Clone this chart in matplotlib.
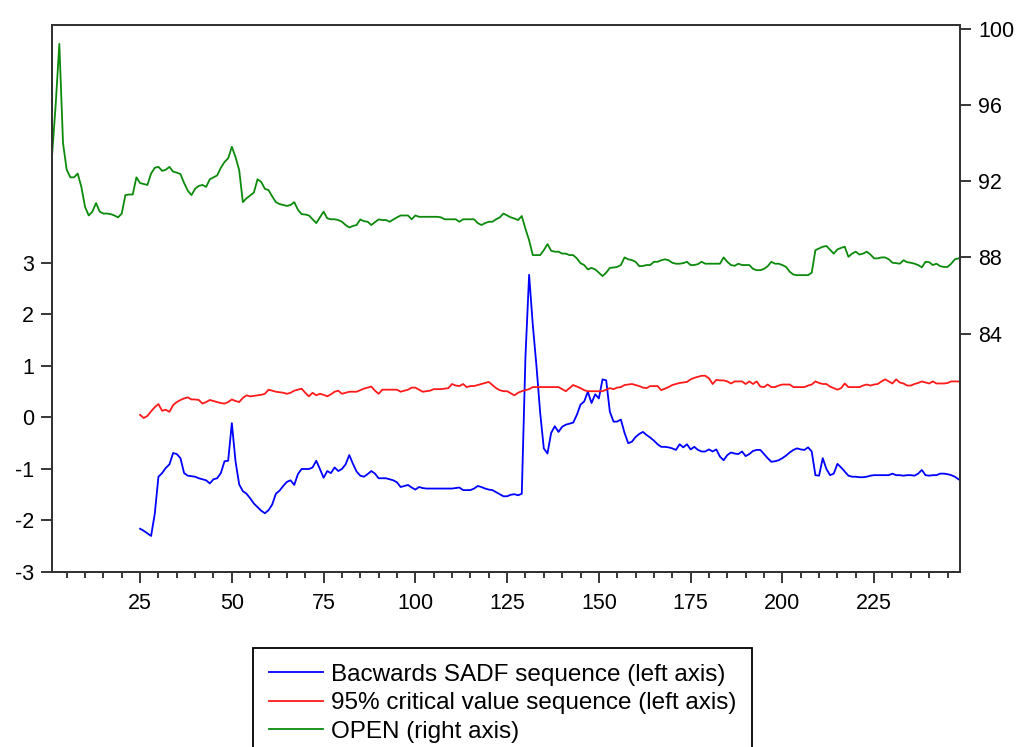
import matplotlib
matplotlib.use("Agg")
import matplotlib.pyplot as plt
from matplotlib.ticker import MultipleLocator, FixedLocator
import numpy as np

plt.rcParams['font.family'] = ['Liberation Sans', 'DejaVu Sans']
plt.rcParams['axes.unicode_minus'] = False

# ---- data (observation index starts at 1) ----
open_start = 1
open_price = [
    93.3, 96.0, 99.2, 94.0, 92.6, 92.2, 92.2, 92.4, 91.7, 90.65,
    90.2, 90.4, 90.85, 90.4, 90.3, 90.3, 90.27, 90.2, 90.1, 90.3,
    91.27, 91.3, 91.3, 92.2, 91.9, 91.85, 91.8, 92.4, 92.7, 92.75,
    92.54, 92.6, 92.75, 92.5, 92.45, 92.37, 91.9, 91.5, 91.27, 91.6,
    91.75, 91.8, 91.7, 92.1, 92.2, 92.3, 92.7, 93.0, 93.2, 93.8,
    93.27, 92.58, 90.9, 91.1, 91.25, 91.4, 92.1, 91.96, 91.6, 91.53,
    91.2, 90.9, 90.8, 90.75, 90.7, 90.75, 90.9, 90.5, 90.27, 90.25,
    90.2, 90.0, 89.8, 90.1, 90.4, 90.05, 90.0, 90.0, 89.96, 89.87,
    89.7, 89.57, 89.65, 89.7, 89.99, 89.9, 89.87, 89.7, 89.85, 89.99,
    89.96, 89.96, 89.87, 89.99, 90.1, 90.2, 90.2, 90.2, 90.0, 90.2,
    90.13, 90.13, 90.13, 90.13, 90.13, 90.13, 90.1, 90.0, 90.0, 90.0,
    90.0, 89.87, 90.0, 90.0, 90.0, 90.0, 89.8, 89.7, 89.8, 89.87,
    89.87, 90.0, 90.1, 90.3, 90.2, 90.1, 90.04, 89.96, 90.17, 89.5,
    88.9, 88.12, 88.12, 88.12, 88.38, 88.7, 88.35, 88.3, 88.3, 88.2,
    88.2, 88.12, 88.12, 87.95, 87.7, 87.6, 87.37, 87.45, 87.37, 87.2,
    87.02, 87.2, 87.45, 87.47, 87.5, 87.6, 88.0, 87.9, 87.86, 87.77,
    87.54, 87.55, 87.6, 87.6, 87.77, 87.77, 87.85, 87.9, 87.85, 87.72,
    87.67, 87.67, 87.7, 87.77, 87.6, 87.6, 87.65, 87.77, 87.67, 87.67,
    87.67, 87.67, 87.67, 88.0, 87.77, 87.6, 87.56, 87.67, 87.6, 87.6,
    87.6, 87.4, 87.33, 87.33, 87.4, 87.54, 87.77, 87.67, 87.67, 87.6,
    87.5, 87.25, 87.1, 87.07, 87.07, 87.07, 87.07, 87.2, 88.38, 88.47,
    88.56, 88.6, 88.4, 88.2, 88.42, 88.5, 88.56, 88.03, 88.2, 88.3,
    88.15, 88.2, 88.3, 88.15, 87.95, 87.95, 88.0, 88.0, 87.9, 87.72,
    87.7, 87.67, 87.85, 87.75, 87.72, 87.67, 87.6, 87.48, 87.77, 87.75,
    87.6, 87.67, 87.54, 87.5, 87.5, 87.67, 87.9, 87.95,
]

sadf_start = 25
bsadf = [
    -2.16, -2.2, -2.25, -2.3, -1.87, -1.15, -1.08, -0.98, -0.91, -0.69,
    -0.71, -0.79, -1.08, -1.13, -1.14, -1.15, -1.18, -1.2, -1.22, -1.28,
    -1.2, -1.18, -1.08, -0.85, -0.84, -0.11, -0.85, -1.3, -1.43, -1.48,
    -1.57, -1.67, -1.74, -1.81, -1.86, -1.8, -1.69, -1.48, -1.42, -1.33,
    -1.25, -1.22, -1.31, -1.1, -1.0, -1.0, -1.0, -0.97, -0.84, -1.0,
    -1.17, -1.04, -1.08, -0.97, -1.04, -1.0, -0.91, -0.73, -0.9, -1.05,
    -1.13, -1.15, -1.1, -1.04, -1.09, -1.18, -1.18, -1.18, -1.2, -1.22,
    -1.26, -1.35, -1.33, -1.31, -1.36, -1.4, -1.35, -1.37, -1.38, -1.38,
    -1.38, -1.38, -1.38, -1.38, -1.38, -1.38, -1.37, -1.36, -1.41, -1.41,
    -1.41, -1.38, -1.33, -1.35, -1.38, -1.4, -1.41, -1.45, -1.49, -1.53,
    -1.53, -1.5, -1.49, -1.51, -1.48, 1.18, 2.77, 1.8, 1.0, 0.1,
    -0.6, -0.7, -0.3, -0.17, -0.28, -0.18, -0.14, -0.12, -0.1, 0.05,
    0.25, 0.31, 0.5, 0.28, 0.45, 0.37, 0.74, 0.72, 0.11, -0.08,
    -0.08, -0.04, -0.3, -0.5, -0.47, -0.38, -0.32, -0.28, -0.34, -0.39,
    -0.45, -0.52, -0.57, -0.57, -0.58, -0.6, -0.63, -0.52, -0.58, -0.52,
    -0.62, -0.57, -0.63, -0.66, -0.66, -0.62, -0.66, -0.62, -0.76, -0.83,
    -0.73, -0.68, -0.7, -0.71, -0.66, -0.75, -0.71, -0.65, -0.63, -0.63,
    -0.71, -0.79, -0.86, -0.85, -0.83, -0.79, -0.74, -0.68, -0.63, -0.6,
    -0.62, -0.63, -0.58, -0.66, -1.12, -1.13, -0.79, -1.0, -1.12, -1.09,
    -0.9, -0.97, -1.05, -1.13, -1.15, -1.15, -1.16, -1.16, -1.15, -1.13,
    -1.12, -1.12, -1.12, -1.12, -1.12, -1.09, -1.12, -1.12, -1.13, -1.12,
    -1.12, -1.13, -1.09, -1.02, -1.12, -1.13, -1.12, -1.12, -1.09, -1.09,
    -1.1, -1.12, -1.15, -1.2,
]

crit95 = [
    0.05, -0.01, 0.03, 0.12, 0.2, 0.26, 0.13, 0.15, 0.11, 0.24,
    0.3, 0.34, 0.37, 0.39, 0.35, 0.35, 0.34, 0.27, 0.3, 0.34,
    0.32, 0.3, 0.28, 0.27, 0.3, 0.35, 0.32, 0.3, 0.38, 0.43,
    0.41, 0.42, 0.43, 0.44, 0.46, 0.54, 0.52, 0.5, 0.49, 0.48,
    0.46, 0.48, 0.52, 0.54, 0.56, 0.48, 0.41, 0.48, 0.43, 0.46,
    0.44, 0.41, 0.45, 0.5, 0.52, 0.46, 0.48, 0.5, 0.5, 0.5,
    0.53, 0.56, 0.58, 0.6, 0.52, 0.46, 0.54, 0.54, 0.54, 0.54,
    0.54, 0.5, 0.52, 0.54, 0.58, 0.58, 0.54, 0.5, 0.51, 0.52,
    0.55, 0.55, 0.55, 0.56, 0.57, 0.65, 0.62, 0.61, 0.65, 0.59,
    0.61, 0.61, 0.63, 0.65, 0.67, 0.69, 0.63, 0.57, 0.53, 0.51,
    0.51, 0.47, 0.43, 0.48, 0.51, 0.53, 0.55, 0.59, 0.59, 0.59,
    0.59, 0.59, 0.59, 0.59, 0.59, 0.55, 0.51, 0.57, 0.63, 0.6,
    0.57, 0.53, 0.51, 0.51, 0.51, 0.51, 0.51, 0.54, 0.57, 0.55,
    0.58, 0.59, 0.63, 0.64, 0.65, 0.63, 0.61, 0.58, 0.57, 0.61,
    0.61, 0.61, 0.53, 0.56, 0.59, 0.63, 0.65, 0.67, 0.68, 0.69,
    0.74, 0.77, 0.79, 0.81, 0.81, 0.76, 0.65, 0.73, 0.72, 0.72,
    0.7, 0.66, 0.7, 0.7, 0.7, 0.65, 0.7, 0.65, 0.7, 0.6,
    0.59, 0.64, 0.59, 0.59, 0.62, 0.64, 0.64, 0.64, 0.59, 0.59,
    0.59, 0.59, 0.62, 0.64, 0.7, 0.67, 0.65, 0.65, 0.6, 0.57,
    0.54, 0.57, 0.66, 0.59, 0.59, 0.59, 0.59, 0.62, 0.64, 0.62,
    0.64, 0.65, 0.7, 0.74, 0.7, 0.66, 0.74, 0.68, 0.66, 0.62,
    0.62, 0.65, 0.67, 0.7, 0.68, 0.66, 0.7, 0.66, 0.66, 0.66,
    0.67, 0.7, 0.7, 0.7,
]

labels = ["Bacwards SADF sequence (left axis)",
          "95% critical value sequence (left axis)",
          "OPEN (right axis)"]
left_ticks = [-3, -2, -1, 0, 1, 2, 3]
right_ticks = [84, 88, 92, 96, 100]
x_major = [25, 50, 75, 100, 125, 150, 175, 200, 225]

x_open = np.arange(open_start, open_start + len(open_price))
x_sadf = np.arange(sadf_start, sadf_start + len(bsadf))

# ---- figure ----
W, H = 1021, 747
fig = plt.figure(figsize=(W / 100, H / 100), dpi=100)
ax = fig.add_axes([52 / W, 1 - 572 / H, (960 - 52) / W, (572 - 25) / H])
ax2 = ax.twinx()

lw = 1.3
l1, = ax.plot(x_sadf, bsadf, color='#0000ff', lw=lw)
l2, = ax.plot(x_sadf, crit95, color='#ff1a1a', lw=lw)
l3, = ax2.plot(x_open, open_price, color='#0b8a0b', lw=lw)

ax.set_xlim(1, x_open[-1] + 0.4)
ax.set_ylim(-3, 7.62)
ax2.set_ylim(71.5, 100.19)

ax.yaxis.set_major_locator(FixedLocator(left_ticks))
ax2.yaxis.set_major_locator(FixedLocator(right_ticks))
ax.xaxis.set_major_locator(FixedLocator(x_major))
ax.xaxis.set_minor_locator(MultipleLocator(5))

fs = 15.5
ax.tick_params(axis='y', direction='out', length=8, width=1.1, pad=5, labelsize=fs, colors='black')
ax2.tick_params(axis='y', direction='out', length=8, width=1.1, pad=5, labelsize=fs, colors='black')
ax.tick_params(axis='x', which='major', direction='out', length=8, width=1.1, pad=7, labelsize=fs)
ax.tick_params(axis='x', which='minor', direction='out', length=4.5, width=1.1)
ax2.tick_params(axis='x', which='both', length=0)

for a in (ax, ax2):
    for s in a.spines.values():
        s.set_color('#333333')
        s.set_linewidth(1.4)

leg = fig.legend([l1, l2, l3], labels,
                 loc='upper left', bbox_to_anchor=(253 / W, 1 - 648 / H),
                 bbox_transform=fig.transFigure,
                 fontsize=17.5, frameon=True, fancybox=False, shadow=False,
                 handlelength=2.25, handletextpad=0.3, borderpad=0.65,
                 labelspacing=0.27, borderaxespad=0)
leg.get_frame().set_edgecolor('black')
leg.get_frame().set_linewidth(1.3)
leg.get_frame().set_alpha(1)

fig.savefig("out.png", dpi=100)
